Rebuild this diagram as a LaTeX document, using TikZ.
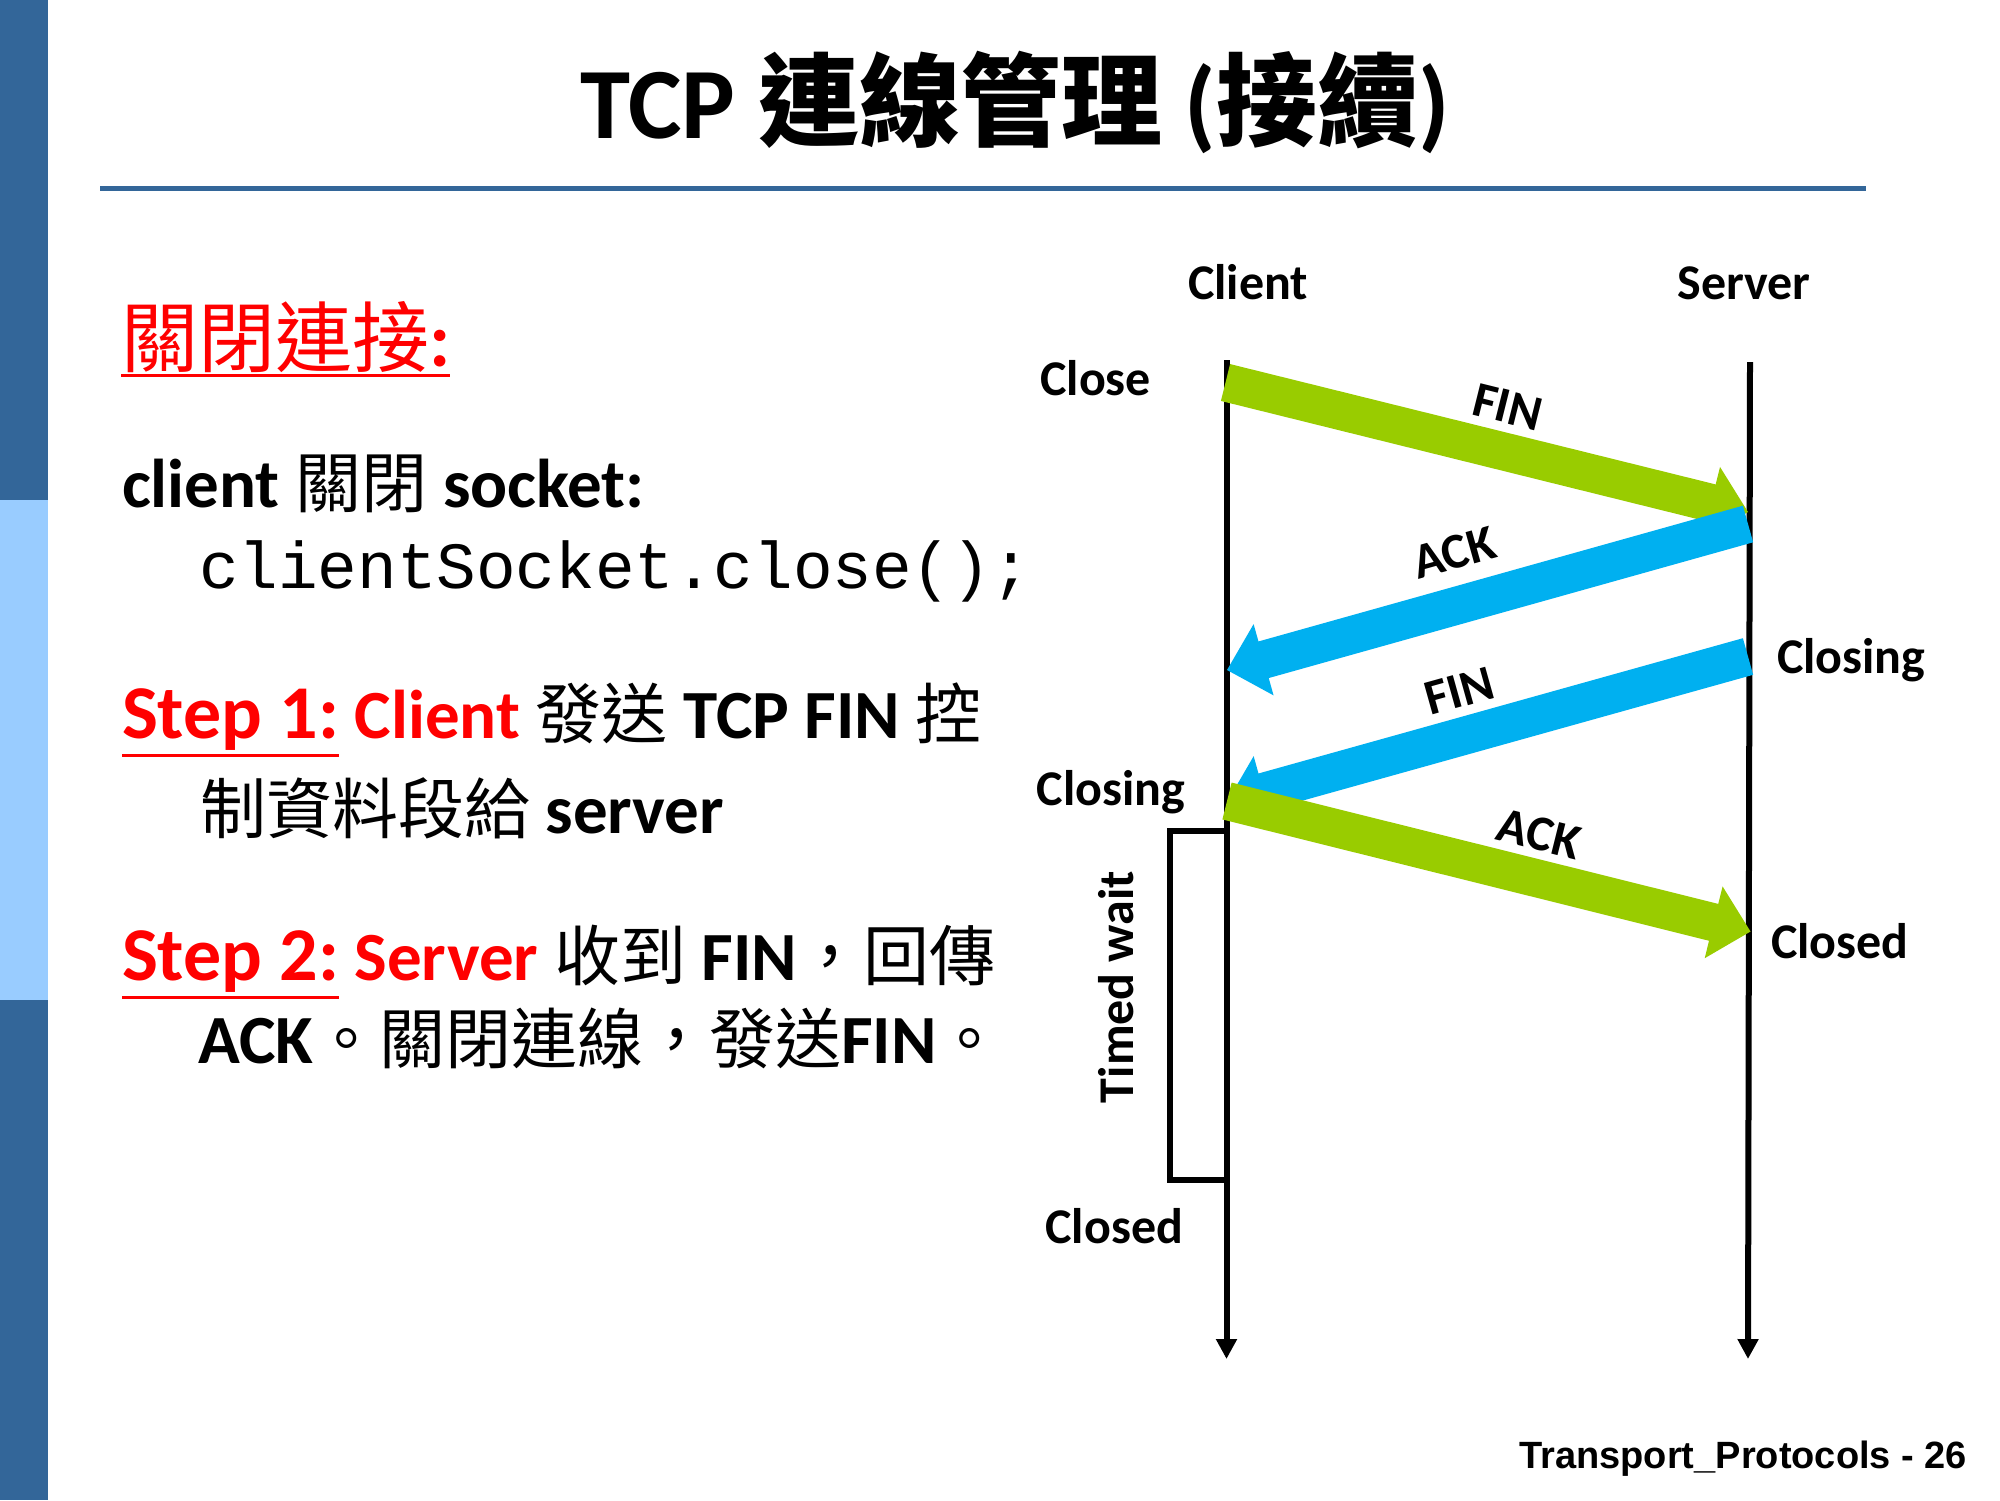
\documentclass[tikz,border=0pt]{standalone}
\usepackage{fontspec}
\setmainfont{Carlito}
\newfontfamily\cjk{Noto Sans CJK TC}
\newfontfamily\monof{Liberation Mono}
\newfontfamily\arialf{Liberation Sans}
\usetikzlibrary{calc,arrows.meta}
\definecolor{barblue}{HTML}{336699}
\definecolor{barlight}{HTML}{99CCFF}
\definecolor{arrgreen}{HTML}{99CC00}
\definecolor{arrblue}{HTML}{00B0F0}
\definecolor{txtred}{HTML}{FF0000}
\newcommand{\fsz}[1]{\fontsize{#1}{#1}\selectfont}
\newcommand{\cj}[1]{{\cjk\mdseries\fsz{66}#1}}
\newsavebox{\ulbox}
\newcommand{\ulx}[2]{\sbox{\ulbox}{#1}\rlap{\usebox{\ulbox}}\rlap{\rule[-#2]{\wd\ulbox}{3.5pt}}\hspace*{\wd\ulbox}}
\def\baSW{19pt}
\def\baHW{37pt}
\def\baHL{38pt}
\newcommand{\blockarrow}[3]{%
  \path ($(#2)!\baHL!(#1)$) coordinate (ba-h);
  \fill[#3] ($(#1)!\baSW!90:(#2)$) -- ($(ba-h)!\baSW!-90:(#1)$) -- ($(ba-h)!\baHW!-90:(#1)$) -- (#2)
    -- ($(ba-h)!\baHW!90:(#1)$) -- ($(ba-h)!\baSW!90:(#1)$) -- ($(#1)!\baSW!-90:(#2)$) -- cycle;
}
\begin{document}
\begin{tikzpicture}[x=1pt,y=-1pt,
  every node/.style={inner sep=0pt, outer sep=0pt},
  lbl/.style={font=\fsz{50}\bfseries},
  body/.style={anchor=base west, font=\fsz{69}\bfseries},
  lifeline/.style={line width=6pt, -{Triangle[width=20pt,length=20pt]}},
  boxline/.style={line width=6pt}]
\fill[white] (0,0) rectangle (2000,1500);
\useasboundingbox (0,0) rectangle (2000,1500);
% side bar
\fill[barblue] (0,0) rectangle (48,500);
\fill[barlight] (0,500) rectangle (48,1000);
\fill[barblue] (0,1000) rectangle (48,1500);
% title
\node[anchor=base, font=\fsz{101}\bfseries] (title) at (1015,138) {TCP {\cjk 連線管理} ({\cjk 接續})};
\fill[barblue] (100,185.5) rectangle (1866,190.5);
% left text
\node[body, text=txtred] (h1) at (121,366) {\ulx{\fsz{77}{\cjk\mdseries 關閉連接}:}{11pt}};
\node[body] (l1) at (122,507) {client \cj{關閉} socket:};
\node[anchor=base west, font=\fsz{66}\monof] (l2) at (199,588) {clientSocket.close();};
\node[body] (s1a) at (122,738) {{\color{txtred}\ulx{\fsz{76}Step 1:}{19pt} Client} \cj{發送} TCP FIN \cj{控}};
\node[body] (s1b) at (200,833) {\cj{制資料段給} server};
\node[body] (s2a) at (122,980) {{\color{txtred}\ulx{\fsz{76}Step 2:}{19pt} Server} \cj{收到} FIN\cj{，回傳}};
\node[body] (s2b) at (198,1063) {ACK\cj{。關閉連線，發送}FIN\cj{。}};
% footer
\node[anchor=base east, font=\fsz{38}\arialf\bfseries] (foot) at (1967,1468) {Transport\_Protocols - 26};
% lifelines
\coordinate (cT) at (1226.5,360);
\coordinate (cB) at (1226.5,1359);
\coordinate (sT) at (1750,362);
\coordinate (sB) at (1748,1359);
\draw[lifeline] (cT) -- (cB);
\draw[lifeline] (sT) -- (sB);
% timed wait box
\coordinate (tw1) at (1226.5,831);
\coordinate (tw2) at (1170,1180);
\coordinate (tw3) at (1226.5,1180);
\draw[boxline] (tw1) -| (tw2) -- (tw3);
% arrows
\coordinate (f1s) at (1225.5,382.5);
\coordinate (f1e) at (1748,512);
\coordinate (a1s) at (1748,524);
\coordinate (a1e) at (1227,670);
\coordinate (f2s) at (1748,656.5);
\coordinate (f2e) at (1227,802);
\coordinate (a2s) at (1227,801);
\coordinate (a2e) at (1750.5,931.5);
\blockarrow{f1s}{f1e}{arrgreen}
\blockarrow{a1s}{a1e}{arrblue}
\blockarrow{f2s}{f2e}{arrblue}
\blockarrow{a2s}{a2e}{arrgreen}
% labels
\node[lbl, anchor=base] (client) at (1248,299) {Client};
\node[lbl, anchor=base] (server) at (1744,299) {Server};
\node[lbl, anchor=base east] (close) at (1151,395) {Close};
\node[lbl, anchor=base west] (closingR) at (1777,673) {Closing};
\node[lbl, anchor=base east] (closingL) at (1185,805) {Closing};
\node[lbl, anchor=base west] (closedR) at (1771,958) {Closed};
\node[lbl, anchor=base east] (closedL) at (1183,1243) {Closed};
\node[lbl, rotate=90] (tw) at (1116,987) {Timed wait};
\node[lbl, rotate=-14] (fin1) at (1508,407) {FIN};
\node[lbl, rotate=15.6] (ack1) at (1454,553) {ACK};
\node[lbl, rotate=15.6] (fin2) at (1459,691) {FIN};
\node[lbl, rotate=-14] (ack2) at (1539,834) {ACK};
\end{tikzpicture}
\end{document}
